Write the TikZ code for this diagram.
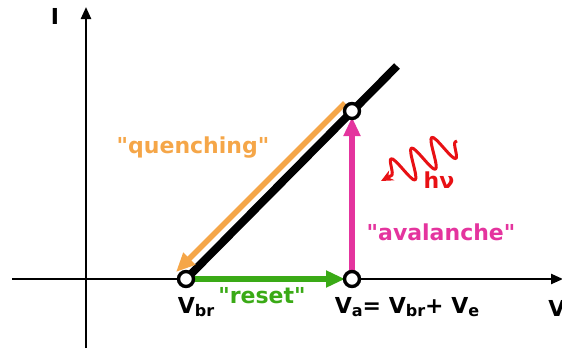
\documentclass[tikz,border=0pt]{standalone}
\usepackage{fontspec}
\setmainfont{DejaVu Sans}
\usetikzlibrary{arrows.meta, positioning, decorations.pathmorphing}
\definecolor{quenchorange}{RGB}{245,166,72}
\definecolor{resetgreen}{RGB}{58,170,22}
\definecolor{avalanchepink}{RGB}{228,52,158}
\definecolor{photonred}{RGB}{232,16,20}
\newcommand{\lowsub}[1]{\raisebox{-0.3ex}{\fontsize{16}{16}\selectfont #1}}
\newcommand{\qmark}{\textquotedbl}

\begin{document}
\begin{tikzpicture}[x=1pt, y=-1pt, font=\fontsize{22}{26}\selectfont\bfseries,
    axis/.style={line width=2.3pt, -{Triangle[length=12pt, width=10pt]}},
    flow/.style={line width=5.5pt, -{Triangle[length=19pt, width=16pt]}},
    dot/.style={circle, draw=black, fill=white, line width=3.4pt, minimum size=15pt, inner sep=0pt},
    lbl/.style={anchor=base, inner sep=0pt}]
  \useasboundingbox (0,0) rectangle (562,349);

  % axes
  \coordinate (yb) at (86,348);
  \coordinate (yt) at (86,7);
  \coordinate (xl) at (12,279);
  \coordinate (xr) at (563,279);
  \draw[axis] (yb) -- (yt);
  \draw[axis] (xl) -- (xr);
  \node[lbl] (ilabel) at (55,24) {I};
  \node[lbl] (vlabel) at (557,316) {V};

  % IV characteristic
  \coordinate (top) at (397,66);
  \draw[line width=8pt] (186,279) -- (top);

  % arrows
  \coordinate (qs) at (345,103);
  \coordinate (qe) at (176,272);
  \draw[flow, quenchorange] (qs) -- (qe);
  \draw[flow, resetgreen] (192,279) -- (345,279);
  \draw[flow, avalanchepink] (352,273) -- (352,117);

  % operating points
  \node[dot] (vbr) at (186,279) {};
  \node[dot] (va) at (352,279) {};
  \node[dot] (vt) at (352,111) {};

  % photon
  \coordinate (ps) at (457,141);
  \coordinate (pe) at (381,181);
  \draw[photonred, line width=3pt, line join=round,
    decorate, decoration={snake, amplitude=15pt, segment length=23pt, pre length=2pt, post length=10pt},
    -{Stealth[length=12pt, width=11pt]}] (ps) -- (pe);
  \node[lbl, photonred] (hnu) at (439,188) {hν};

  % labels
  \node[lbl, quenchorange] (quench) at (193,153) {\qmark quenching\qmark};
  \node[lbl, avalanchepink] (aval) at (441,240) {\qmark avalanche\qmark};
  \node[lbl, resetgreen] (reset) at (262,303) {\qmark reset\qmark};
  \node[lbl] (vbrlabel) at (196,313) {V\lowsub{br}};
  \node[lbl] (valabel) at (407,313) {V\lowsub{a}= V\lowsub{br}+ V\lowsub{e}};
\end{tikzpicture}
\end{document}
